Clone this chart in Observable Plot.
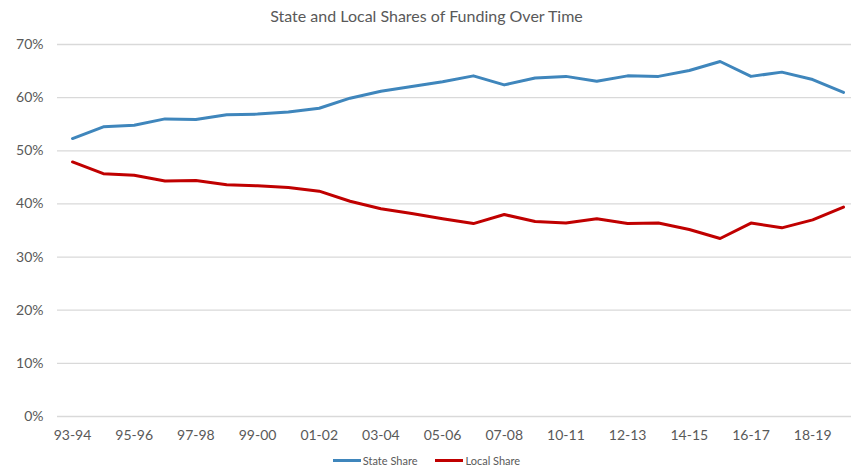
<!DOCTYPE html>
<html>
<head>
<meta charset="utf-8">
<script src="https://cdn.jsdelivr.net/npm/d3@7"></script>
<script src="https://cdn.jsdelivr.net/npm/@observablehq/plot@0.6"></script>
<style>
  body { margin: 0; background: #fff; font-family: "Lato", "DejaVu Sans", sans-serif; color: #595959; }
  #wrap { width: 853px; height: 468px; position: relative; overflow: hidden; }
  #title { height: 32px; line-height: 32px; text-align: center; font-size: 16px; color: #595959; }
  #legend { display: flex; justify-content: center; align-items: center; gap: 18px; font-size: 11px; margin-top: 3px; height: 22px; }
  .item { display: flex; align-items: center; }
  .sw { display: inline-block; width: 28px; height: 3px; margin-right: 2px; }
</style>
</head>
<body>
<div id="wrap">
  <div id="title">State and Local Shares of Funding Over Time</div>
  <div id="chart"></div>
  <div id="legend"></div>
</div>
<script>
const years = ["93-94","94-95","95-96","96-97","97-98","98-99","99-00","00-01","01-02","02-03","03-04","04-05","05-06","06-07","07-08","09-10","10-11","11-12","12-13","13-14","14-15","15-16","16-17","17-18","18-19","19-20"];
const stateShare = [52.3,54.5,54.8,56.0,55.9,56.8,56.9,57.3,58.0,59.9,61.2,62.1,63.0,64.1,62.4,63.7,64.0,63.1,64.1,64.0,65.1,66.8,64.0,64.8,63.4,61.0];
const localShare = [47.9,45.7,45.4,44.3,44.4,43.6,43.4,43.1,42.4,40.5,39.1,38.2,37.2,36.3,38.0,36.7,36.4,37.2,36.3,36.4,35.2,33.5,36.4,35.5,37.0,39.4];
const xTickLabels = ["93-94","95-96","97-98","99-00","01-02","03-04","05-06","07-08","10-11","12-13","14-15","16-17","18-19"];
const yTicks = [0,10,20,30,40,50,60,70];
const seriesNames = ["State Share","Local Share"];
const seriesColors = ["#3f86bc","#c00000"];

const rows = [];
years.forEach((y, i) => {
  rows.push({year: y, value: stateShare[i], series: seriesNames[0]});
  rows.push({year: y, value: localShare[i], series: seriesNames[1]});
});

const chart = Plot.plot({
  width: 853,
  height: 414,
  marginLeft: 57,
  marginRight: 2,
  marginTop: 12,
  marginBottom: 30,
  style: {fontFamily: "Lato, 'DejaVu Sans', sans-serif", fontSize: "14px", color: "#595959", background: "#fff"},
  x: {type: "point", domain: years, range: [72, 843], padding: 0, round: false},
  y: {domain: [0, 70], range: [384, 12]},
  color: {domain: seriesNames, range: seriesColors},
  marks: [
    Plot.ruleY(yTicks, {stroke: "#d9d9d9", strokeWidth: 1.3}),
    Plot.line(rows, {x: "year", y: "value", z: "series", stroke: "series", strokeWidth: 3, strokeLinejoin: "round", strokeLinecap: "round"}),
    Plot.axisY(yTicks, {tickSize: 0, tickPadding: 14, tickFormat: d => d + "%", label: null, fill: "#595959"}),
    Plot.axisX(xTickLabels, {tickSize: 0, tickPadding: 14, label: null, fill: "#595959"})
  ]
});
document.getElementById("chart").appendChild(chart);

const legend = document.getElementById("legend");
seriesNames.forEach((n, i) => {
  const it = document.createElement("div");
  it.className = "item";
  const sw = document.createElement("span");
  sw.className = "sw";
  sw.style.background = seriesColors[i];
  const t = document.createElement("span");
  t.textContent = n;
  it.appendChild(sw); it.appendChild(t);
  legend.appendChild(it);
});
</script>
</body>
</html>
